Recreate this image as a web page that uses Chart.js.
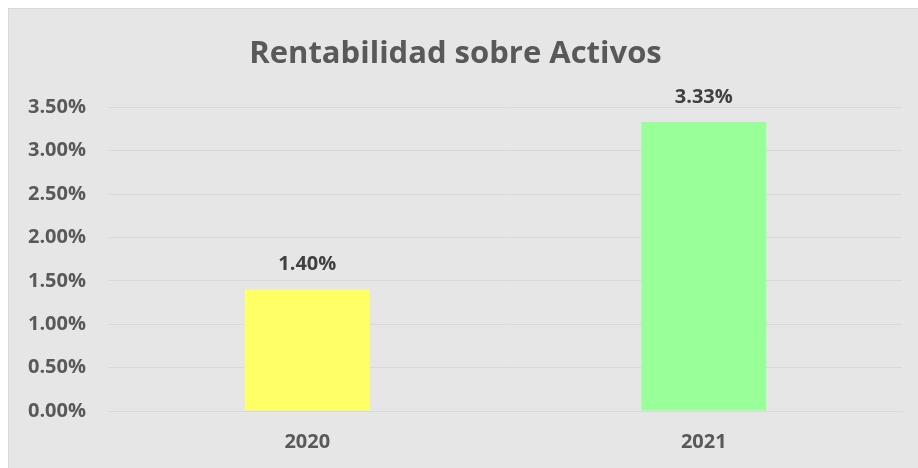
<!DOCTYPE html>
<html>
<head>
<meta charset="utf-8">
<script src="https://cdn.jsdelivr.net/npm/chart.js@4/dist/chart.umd.min.js"></script>
<style>
  html, body { margin: 0; padding: 0; background: #ffffff; overflow: hidden; }
  #frame {
    position: absolute; left: 8px; top: 8px;
    width: 910px; height: 460px;
    background: #e7e6e6;
    border-left: 1px solid #d9d9d9;
    border-top: 1px solid #d9d9d9;
  }
  #wrap { position: absolute; left: 0; top: 0; width: 909px; height: 459px; }
</style>
</head>
<body>
<div id="frame"><div id="wrap"><canvas id="c" width="909" height="459"></canvas></div></div>
<script>
// Return on assets by year
const years = ['2020', '2021'];
const roaValues = [1.40, 3.33];
const barColors = ['#ffff66', '#99ff99'];
const chartTitle = 'Rentabilidad sobre Activos';

const FONT = "'Open Sans', 'DejaVu Sans', sans-serif";

// Percent labels above each bar
const valueLabels = {
  id: 'valueLabels',
  afterDatasetsDraw(chart) {
    const ctx = chart.ctx;
    const meta = chart.getDatasetMeta(0);
    ctx.save();
    ctx.font = `bold 20px ${FONT}`;
    ctx.fillStyle = '#404040';
    ctx.textAlign = 'center';
    ctx.textBaseline = 'middle';
    meta.data.forEach((bar, i) => {
      const v = chart.data.datasets[0].data[i];
      ctx.fillText(v.toFixed(2) + '%', bar.x, bar.y - 25);
    });
    ctx.restore();
  }
};

new Chart(document.getElementById('c'), {
  type: 'bar',
  data: {
    labels: years,
    datasets: [{
      data: roaValues,
      backgroundColor: barColors,
      borderWidth: 0,
      barPercentage: 0.315,
      categoryPercentage: 1.0
    }]
  },
  options: {
    responsive: false,
    animation: false,
    layout: { padding: { left: 0, right: 16, top: 0, bottom: 15 } },
    plugins: {
      legend: { display: false },
      tooltip: { enabled: false },
      title: {
        display: true,
        text: chartTitle,
        color: '#595959',
        font: { family: FONT, size: 31, weight: 'bold' },
        padding: { top: 27, bottom: 34 }
      }
    },
    scales: {
      x: {
        afterFit(scale) { scale.height = 42; },
        grid: { display: false, drawTicks: false },
        border: { display: true, color: '#d9d9d9', width: 1 },
        ticks: {
          color: '#595959',
          padding: 19,
          font: { family: FONT, size: 20, weight: 'bold' }
        }
      },
      y: {
        min: 0,
        max: 3.5,
        afterFit(scale) { scale.width = 100; },
        grid: { color: '#d9d9d9', lineWidth: 1, drawTicks: false },
        border: { display: false },
        ticks: {
          stepSize: 0.5,
          color: '#595959',
          padding: 23,
          font: { family: FONT, size: 20, weight: 'bold' },
          callback: (v) => Number(v).toFixed(2) + '%'
        }
      }
    }
  },
  plugins: [valueLabels]
});
</script>
</body>
</html>
